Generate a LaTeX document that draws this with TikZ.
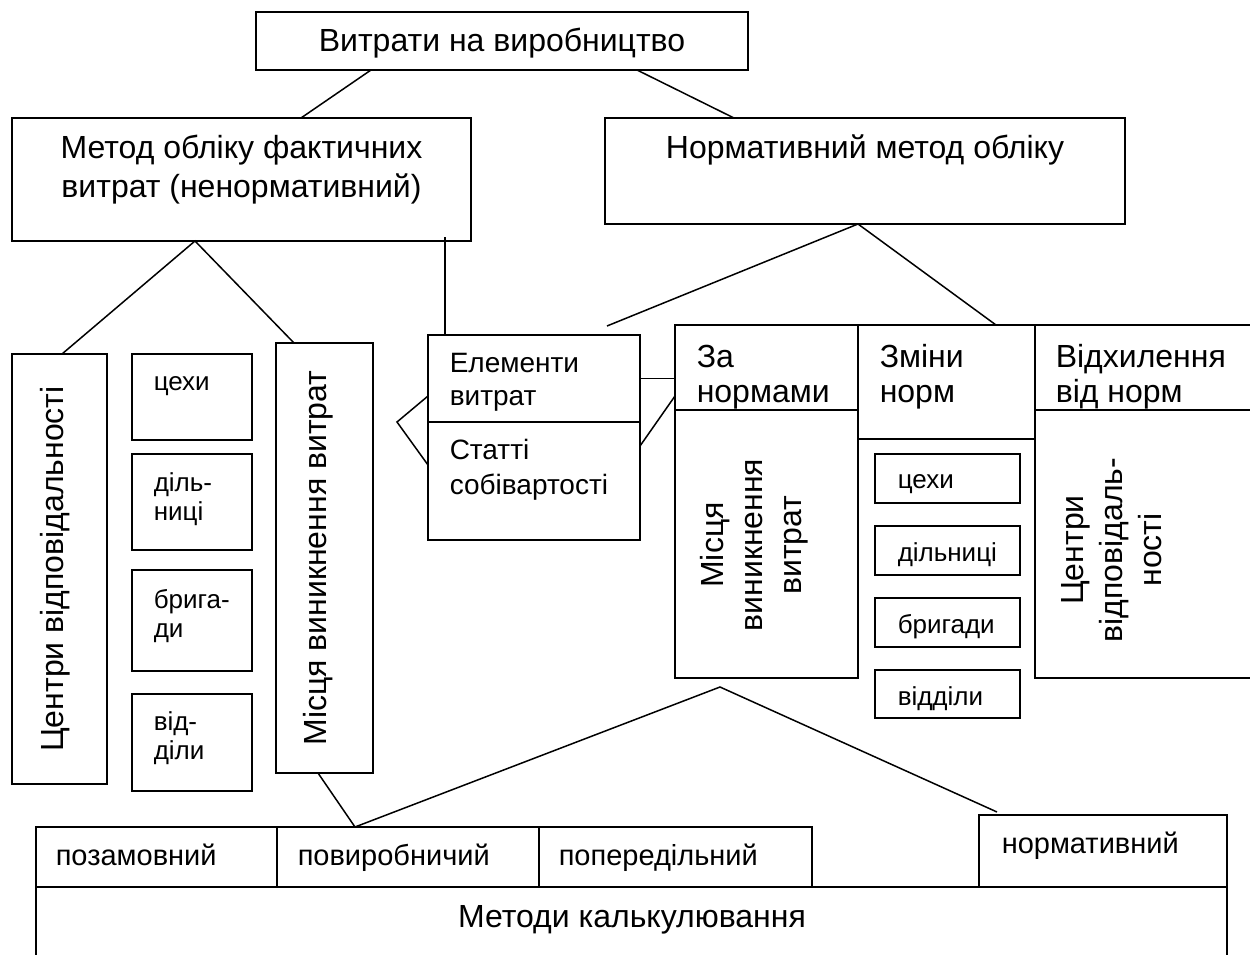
\documentclass[tikz,border=0pt]{standalone}
\usepackage{fontspec}
\setmainfont{Liberation Sans}
\begin{document}
\begin{tikzpicture}[x=1pt, y=-1pt, draw=black, line width=1.5pt,
	cell/.style 2 args={draw, line width=2pt, inner sep=0pt, outer sep=0pt, anchor=north west, minimum width=#1, minimum height=#2},
	lbl/.style={inner sep=0pt, anchor=base west, align=left},
	big/.style={font=\fontsize{32}{39}\selectfont},
	hdr/.style={font=\fontsize{32}{35}\selectfont},
	mid/.style={font=\fontsize{28}{33}\selectfont},
	low/.style={font=\fontsize{29}{34}\selectfont},
	small/.style={font=\fontsize{26}{29}\selectfont}]
	\path[use as bounding box, fill=white] (0,0) rectangle (1250,955);
	\clip (0,0) rectangle (1250,955);

	\node[cell={492}{58}]   (top)      at (256,12)  {};
	\node[cell={459}{123}]  (fakt)     at (12,118)  {};
	\node[cell={520}{106}]  (norm)     at (605,118) {};
	\node[cell={95}{430}]   (centr)    at (12,354)  {};
	\node[cell={120}{86}]   (cex1)     at (132,354) {};
	\node[cell={120}{96}]   (dil1)     at (132,454) {};
	\node[cell={120}{101}]  (brig1)    at (132,570) {};
	\node[cell={120}{97}]   (vid1)     at (132,694) {};
	\node[cell={97}{430}]   (mists)    at (276,343) {};
	\node[cell={212}{87}]   (elem)     at (428,335) {};
	\node[cell={212}{118}]  (statti)   at (428,422) {};
	\node[cell={183}{85}]   (zanorm)   at (675,325) {};
	\node[cell={183}{268}]  (zanormlo) at (675,410) {};
	\node[cell={177}{114}]  (zminy)    at (858,325) {};
	\node[cell={227}{85}]   (vidh)     at (1035,325) {};
	\node[cell={227}{268}]  (vidhlo)   at (1035,410) {};
	\node[cell={145}{49}]   (cex2)     at (875,454) {};
	\node[cell={145}{49}]   (dil2)     at (875,526) {};
	\node[cell={145}{49}]   (brig2)    at (875,598) {};
	\node[cell={145}{48}]   (vid2)     at (875,670) {};
	\node[cell={241}{60}]   (pozam)    at (36,827)  {};
	\node[cell={262}{60}]   (povyr)    at (277,827) {};
	\node[cell={273}{60}]   (poper)    at (539,827) {};
	\node[cell={248}{72}]   (normat)   at (979,815) {};
	\node[cell={1191}{80}]  (metody)   at (36,887)  {};

	\node[big, inner sep=0pt, anchor=base] (topT) at (502,52) {Витрати на виробництво};
	\node[big, inner sep=0pt, anchor=base, align=center] (faktT) at (241.5,197) {Метод обліку фактичних\\витрат (ненормативний)};
	\node[big, inner sep=0pt, anchor=base] (normT) at (865,158) {Нормативний метод обліку};
	\node[big, inner sep=0pt, anchor=base, rotate=90] (centrT) at (63,569) {Центри відповідальності};
	\node[big, inner sep=0pt, anchor=base, rotate=90] (mistsT) at (326,558) {Місця виникнення витрат};
	\node[small, lbl] (cex1T)  at (153,390) {цехи};
	\node[small, lbl] (dil1T)  at (153,520) {діль-\\ниці};
	\node[small, lbl] (brig1T) at (153,637) {брига-\\ди};
	\node[small, lbl] (vid1T)  at (153,759) {від-\\діли};
	\node[mid, lbl] (elemT)   at (449,405) {Елементи\\витрат};
	\node[mid, lbl, font=\fontsize{28}{35}\selectfont] (stattiT) at (449,494) {Статті\\собівартості};
	\node[hdr, lbl] (zanormT) at (696,402)  {За\\нормами};
	\node[hdr, lbl] (zminyT)  at (879,402)  {Зміни\\норм};
	\node[hdr, lbl] (vidhT)   at (1055,402) {Відхилення\\від норм};
	\node[big, inner sep=0pt, rotate=90, align=center] (zanormloT) at (754,545) {Місця\\виникнення\\витрат};
	\node[big, inner sep=0pt, rotate=90, align=center] (vidhloT)   at (1112,550) {Центри\\відповідаль-\\ності};
	\node[small, lbl] (cex2T)  at (897,488) {цехи};
	\node[small, lbl] (dil2T)  at (897,561) {дільниці};
	\node[small, lbl] (brig2T) at (897,633) {бригади};
	\node[small, lbl] (vid2T)  at (897,705) {відділи};
	\node[low, lbl] (pozamT)  at (55,865)   {позамовний};
	\node[low, lbl] (povyrT)  at (297,865)  {повиробничий};
	\node[low, lbl] (poperT)  at (558,865)  {попередільний};
	\node[low, lbl] (normatT) at (1001,853) {нормативний};
	\node[big, inner sep=0pt, anchor=base] (metodyT) at (632,927) {Методи калькулювання};

	\coordinate (nfree)  at (607,326);
	\coordinate (notch)  at (397,422);
	\coordinate (vertex) at (720,687);

	\draw ([xshift=-131pt]top.south)  -- ([xshift=59.5pt]fakt.north);
	\draw ([xshift=135pt]top.south)   -- ([xshift=-131pt]norm.north);
	\draw ([xshift=2.5pt]centr.north) -- ([xshift=-46.5pt]fakt.south) -- ([xshift=-30.5pt]mists.north);
	\draw ([xshift=203.5pt,yshift=4pt]fakt.south) -- ([xshift=-89pt]elem.north);
	\draw (nfree) -- ([xshift=-7pt]norm.south) -- ([xshift=49.5pt]zminy.north);
	\draw (elem.east) -- (elem.east -| zanorm.west);
	\draw ([yshift=35pt]statti.east) -- ([yshift=-28.5pt]zanorm.west);
	\draw ([yshift=-17.5pt]elem.west) -- (notch) -- ([yshift=16pt]statti.west);
	\draw ([xshift=-6.5pt]mists.south) -- ([xshift=-53pt]povyr.north) -- (vertex) -- ([xshift=-106pt,yshift=3pt]normat.north);
\end{tikzpicture}
\end{document}
